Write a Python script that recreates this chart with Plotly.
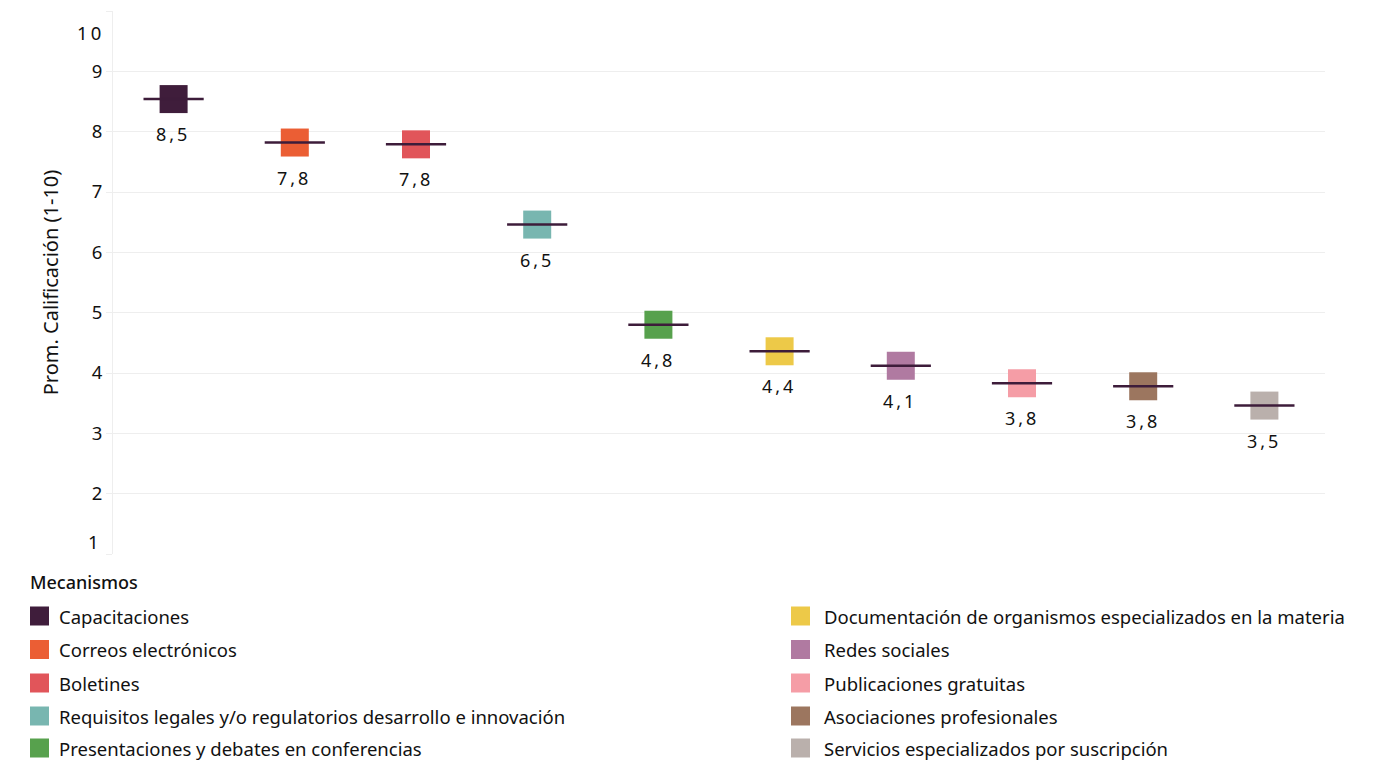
import plotly.graph_objects as go

categories = [
    "Capacitaciones",
    "Correos electrónicos",
    "Boletines",
    "Requisitos legales y/o regulatorios desarrollo e innovación",
    "Presentaciones y debates en conferencias",
    "Documentación de organismos especializados en la materia",
    "Redes sociales",
    "Publicaciones gratuitas",
    "Asociaciones profesionales",
    "Servicios especializados por suscripción",
]
values = [8.54, 7.82, 7.79, 6.46, 4.80, 4.36, 4.12, 3.83, 3.78, 3.46]
value_labels = ["8,5", "7,8", "7,8", "6,5", "4,8", "4,4", "4,1", "3,8", "3,8", "3,5"]
colors = ["#3f1d3b", "#eb5e34", "#e1555a", "#78b6b0", "#57a14d",
          "#edc948", "#b07aa1", "#f59da6", "#9c765f", "#bab0ac"]
y_ticks = [1, 2, 3, 4, 5, 6, 7, 8, 9, 10]
legend_title = "Mecanismos"
y_title = "Prom. Calificación (1-10)"

FONT = "Noto Sans"
W, H = 1382, 761
ML, MR, MT, MB = 113, 57, 11, 207
PH = H - MT - MB
PW = W - ML - MR

fig = go.Figure()

# colored squares
fig.add_trace(go.Scatter(
    x=categories, y=values, mode="markers",
    marker=dict(symbol="square", size=28, color=colors, line=dict(width=0)),
    showlegend=False, hoverinfo="x+y",
))
# mean tick lines
fig.add_trace(go.Scatter(
    x=categories, y=values, mode="markers",
    marker=dict(symbol="line-ew", size=43, color="#3d1c3a",
                line=dict(width=2.5, color="#3d1c3a")),
    showlegend=False, hoverinfo="skip",
))

annotations = []
for c, v, t in zip(categories, values, value_labels):
    annotations.append(dict(
        x=c, y=v, xref="x", yref="y", text=t.replace(",", "\u2009,\u2009"),
        showarrow=False, yanchor="middle", yshift=-35, xshift=-2,
        font=dict(family=FONT, size=18, color="#111"),
    ))

def py(px):
    return (H - MB - px) / PH

def pxx(px):
    return (px - ML) / PW

# end tick labels shifted inward
annotations.append(dict(x=pxx(103), y=py(32), xref="paper", yref="paper",
                        text="1\u20090", showarrow=False, xanchor="right", yanchor="middle",
                        font=dict(family=FONT, size=18.5, color="#111")))
annotations.append(dict(x=pxx(101), y=py(541), xref="paper", yref="paper",
                        text="1", showarrow=False, xanchor="right", yanchor="middle",
                        font=dict(family=FONT, size=18.5, color="#111")))

# legend (manual, two columns)
annotations.append(dict(x=pxx(28), y=py(582), xref="paper", yref="paper",
                        text=legend_title, showarrow=False, xanchor="left", yanchor="middle",
                        font=dict(family=FONT, size=18, color="#111", weight=500)))
shapes = []
row_y = [616, 649.5, 683, 716, 748]
for i, (c, col) in enumerate(zip(categories, colors)):
    colx = 30 if i < 5 else 791
    txt_off = 27 if i < 5 else 31
    ry = row_y[i % 5]
    shapes.append(dict(type="rect", xref="paper", yref="paper",
                       x0=pxx(colx), x1=pxx(colx + 19), y0=py(ry + 9.5), y1=py(ry - 9.5),
                       fillcolor=col, line=dict(width=0)))
    annotations.append(dict(x=pxx(colx + txt_off), y=py(ry), xref="paper", yref="paper",
                            text=c, showarrow=False, xanchor="left", yanchor="middle",
                            font=dict(family=FONT, size=18.5, color="#111")))

fig.update_layout(
    width=W, height=H, autosize=False,
    margin=dict(l=ML, r=MR, t=MT, b=MB),
    paper_bgcolor="white", plot_bgcolor="white",
    font=dict(family=FONT, size=18, color="#111"),
    xaxis=dict(type="category", range=[-0.5, len(categories) - 0.5],
               showticklabels=False, showgrid=False,
               zeroline=False, showline=False, ticks=""),
    yaxis=dict(range=[1, 10], tickvals=y_ticks,
               ticktext=["" if t in (1, 10) else str(t) for t in y_ticks],
               showgrid=True, gridcolor="#eeeeee", gridwidth=1,
               ticks="outside", ticklen=6, tickcolor="#eeeeee",
               showline=True, linecolor="#eeeeee", linewidth=1,
               zeroline=False,
               title=dict(text=y_title, font=dict(family=FONT, size=20), standoff=27),
               tickfont=dict(family=FONT, size=18.5, color="#111")),
    annotations=annotations, shapes=shapes,
)

fig.write_html("out.html", config={"displayModeBar": False})
with open("out.html", encoding="utf-8") as f:
    html = f.read()
html = html.replace("<body>", '<body style="margin:0;padding:0;overflow:hidden">', 1)
with open("out.html", "w", encoding="utf-8") as f:
    f.write(html)
